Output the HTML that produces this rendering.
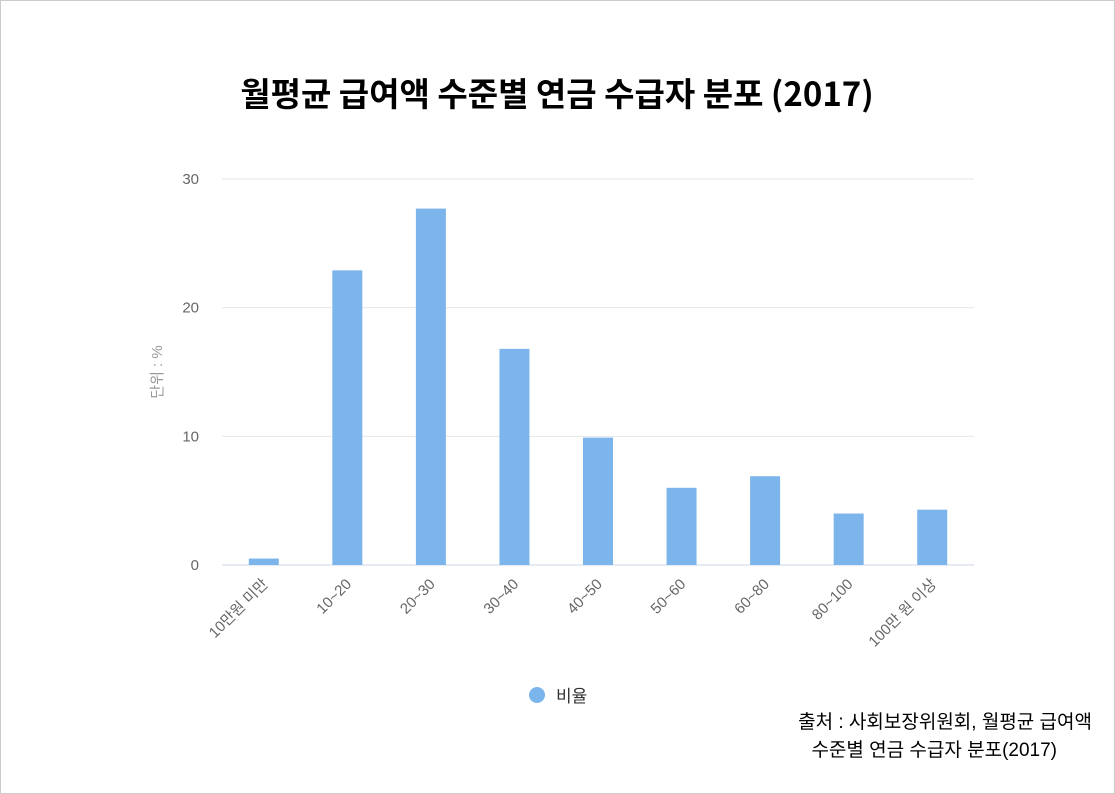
<!DOCTYPE html>
<html><head><meta charset="utf-8"><style>
body{margin:0;width:1115px;height:794px;background:#fff;overflow:hidden;font-family:"Liberation Sans","Noto Sans CJK KR",sans-serif}
#frame{position:absolute;left:0;top:0;width:1113px;height:792px;border:1px solid #ccc}
</style></head><body>
<div id="frame"></div>
<svg id="chart" width="1115" height="794" style="position:absolute;left:0;top:0">
<text x="557" y="106" text-anchor="middle" font-size="33" font-weight="bold" fill="#000" font-family="'Noto Sans CJK KR',sans-serif">월평균 급여액 수준별 연금 수급자 분포 (2017)</text>
<text transform="translate(162,372) rotate(-90)" text-anchor="middle" font-size="15" fill="#999">단위 : %</text>
<g id="grid"></g><g id="bars"></g><g id="xl"></g>
<circle cx="537" cy="695" r="8" fill="#7cb5ec"/>
<text x="556" y="702" font-size="17" fill="#333">비율</text>
<text x="1092" y="728" text-anchor="end" font-size="19" fill="#000">출처 : 사회보장위원회, 월평균 급여액</text>
<text x="1057" y="756" text-anchor="end" font-size="19" fill="#000">수준별 연금 수급자 분포(2017)</text>
</svg>
<script>
const categories=["10만원 미만","10~20","20~30","30~40","40~50","50~60","60~80","80~100","100만 원 이상"];
const values=[0.5,22.9,27.7,16.8,9.9,6.0,6.9,4.0,4.3];
const yTicks=[0,10,20,30];
const NS="http://www.w3.org/2000/svg";
const L=222,R=974,T=179,B=565,ymax=30;
const y=v=>B-(v/ymax)*(B-T);
const bw=(R-L)/categories.length;
const x=i=>L+bw*(i+0.5);
function mk(t,a,p){const e=document.createElementNS(NS,t);for(const k in a)e.setAttribute(k,a[k]);p.appendChild(e);return e;}
const g=document.getElementById('grid');
yTicks.forEach(v=>{
 const l=mk('line',{x1:L,x2:R,y1:y(v),y2:y(v),stroke:v===0?'#ccd6eb':'#e6e6e6','stroke-width':1},g);
 
 
 const t=mk('text',{x:199,y:y(v)+5,'text-anchor':'end','font-size':15,fill:'#666'},g);
 t.textContent=v;
 
 
});
const bg=document.getElementById('bars'),xg=document.getElementById('xl');
values.forEach((v,i)=>{
 const r=mk('rect',{x:x(i)-15,y:y(v),width:30,height:B-y(v),fill:'#7cb5ec'},bg);
 
 
 const t=mk('text',{transform:`translate(${x(i)+5},${B+20}) rotate(-45)`,'text-anchor':'end','font-size':15,fill:'#666'},xg);
 t.textContent=categories[i];
 
 
});
</script>
</body></html>
